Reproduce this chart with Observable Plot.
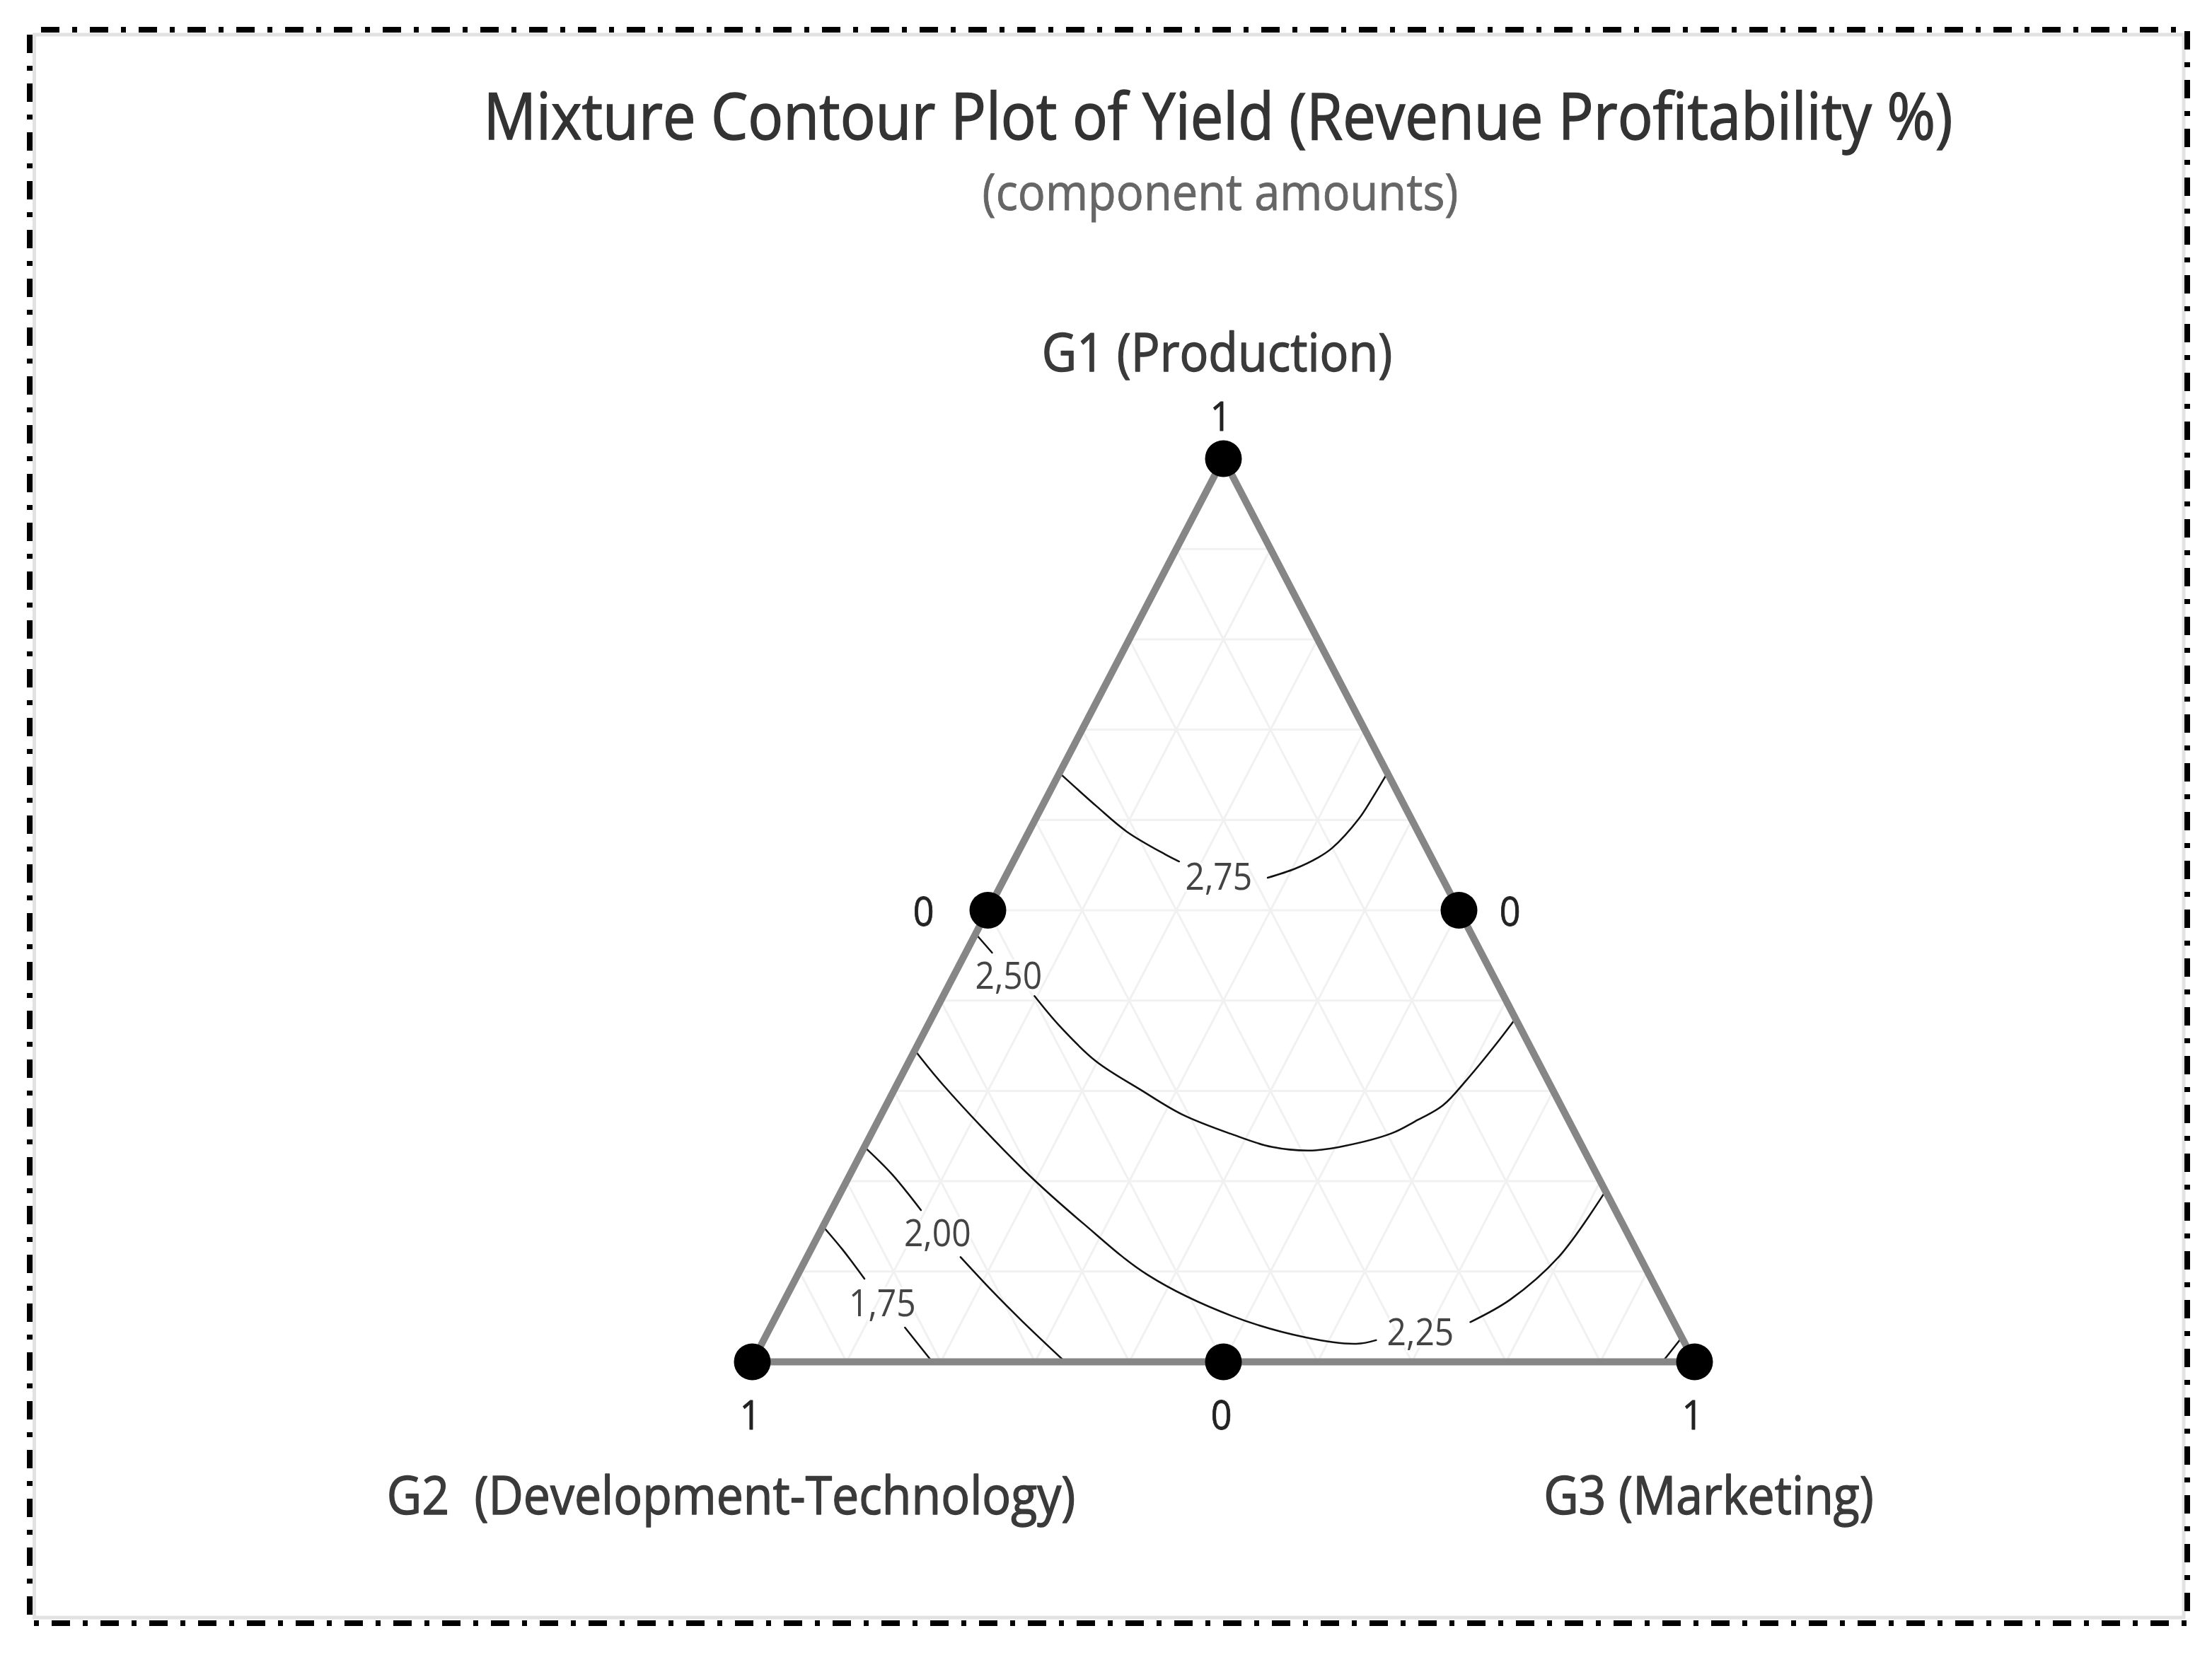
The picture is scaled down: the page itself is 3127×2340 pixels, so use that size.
<!DOCTYPE html>
<html>
<head>
<meta charset="utf-8">
<script src="https://cdn.jsdelivr.net/npm/d3@7"></script>
<script src="https://cdn.jsdelivr.net/npm/@observablehq/plot@0.6"></script>
<style>
  html, body { margin: 0; padding: 0; background: #fff; }
  #page { position: relative; width: 3127px; height: 2340px; overflow: hidden; background: #fff; font-family: "Open Sans", sans-serif; }
  #header { display: block; }
  #chart svg { display: block; }
  #border { position: absolute; left: 0; top: 0; pointer-events: none; }
</style>
</head>
<body>
<div id="page">
  <svg id="header" width="3127" height="330" style="font-family:'Open Sans',sans-serif">
    <text id="title" transform="translate(1722,197) scale(1,1.1)" text-anchor="middle" font-size="83" fill="#333" stroke="#333" stroke-width="1.4"></text>
    <text id="subtitle" transform="translate(1725,297) scale(1,1.1)" text-anchor="middle" font-size="65" fill="#666" stroke="#666" stroke-width="0.8"></text>
  </svg>
  <div id="chart"></div>
  <svg id="border" width="3127" height="2340">
    <rect x="48.5" y="49" width="3038.5" height="2238" fill="none" stroke="#e2e2e2" stroke-width="5"/>
    <rect x="42" y="42" width="3050" height="2253" fill="none" stroke="#000" stroke-width="8" stroke-dasharray="26 18 7 18" stroke-dashoffset="-16"/>
  </svg>
</div>
<script>
// ---------- chart values ----------
const titleText = "Mixture Contour Plot of Yield (Revenue Profitability %)";
const subtitleText = "(component amounts)";

// component (vertex) names: G1 top, G2 bottom-left, G3 bottom-right
const componentNames = ["G1 (Production)", "G2\u00a0 (Development-Technology)", "G3 (Marketing)"];

// design points [G1, G2, G3] and their tick labels
const designPoints = [[1, 0, 0], [0.5, 0.5, 0], [0.5, 0, 0.5], [0, 1, 0], [0, 0.5, 0.5], [0, 0, 1]];
const tickLabels   = ["1", "0", "0", "1", "0", "1"];
const tickSides    = ["top", "left", "right", "bottom", "bottom", "bottom"];

// light ternary grid values
const gridTicks = [0.1, 0.2, 0.3, 0.4, 0.5, 0.6, 0.7, 0.8, 0.9];

// contour levels
const levels = [1.75, 2.00, 2.25, 2.50, 2.75];

// traced contour lines, points as [G1, G2, G3]; each line split where its label interrupts it
const contour175 = [
  [[0.150, 0.850, 0.000], [0.124, 0.842, 0.034], [0.092, 0.835, 0.073]],
  [[0.038, 0.819, 0.143], [0.000, 0.809, 0.191]]
];
const contour200 = [
  [[0.238, 0.762, 0.000], [0.208, 0.748, 0.044], [0.168, 0.737, 0.095]],
  [[0.116, 0.721, 0.163], [0.078, 0.706, 0.216], [0.045, 0.691, 0.264], [0.000, 0.668, 0.332]],
  [[0.000, 0.034, 0.966], [0.027, 0.000, 0.973]]
];
const contour225 = [
  [[0.345, 0.655, 0.000], [0.306, 0.644, 0.050], [0.213, 0.606, 0.181], [0.153, 0.572, 0.275], [0.096, 0.532, 0.372],
   [0.051, 0.466, 0.483], [0.027, 0.399, 0.574], [0.020, 0.349, 0.631], [0.024, 0.326, 0.650]],
  [[0.044, 0.216, 0.740], [0.069, 0.161, 0.770], [0.117, 0.085, 0.798], [0.189, 0.000, 0.811]]
];
const contour250 = [
  [[0.474, 0.526, 0.000], [0.453, 0.519, 0.028]],
  [[0.405, 0.498, 0.097], [0.372, 0.488, 0.140], [0.333, 0.469, 0.198], [0.301, 0.437, 0.262], [0.274, 0.407, 0.319],
   [0.252, 0.365, 0.383], [0.238, 0.330, 0.432], [0.234, 0.289, 0.477], [0.239, 0.252, 0.509], [0.253, 0.195, 0.552],
   [0.266, 0.164, 0.570], [0.284, 0.125, 0.591], [0.312, 0.086, 0.602], [0.350, 0.037, 0.613], [0.380, 0.000, 0.620]]
];
const contour275 = [
  [[0.652, 0.348, 0.000], [0.615, 0.327, 0.058], [0.587, 0.309, 0.104], [0.562, 0.281, 0.157], [0.554, 0.270, 0.176]],
  [[0.536, 0.185, 0.279], [0.546, 0.151, 0.303], [0.558, 0.121, 0.321], [0.569, 0.100, 0.331], [0.601, 0.056, 0.343],
   [0.625, 0.029, 0.346], [0.652, 0.000, 0.348]]
];
const contours = [contour175, contour200, contour225, contour250, contour275];

// contour label positions [G1, G2, G3]
const labelPoints = [[0.064, 0.830, 0.106], [0.141, 0.733, 0.126], [0.032, 0.275, 0.693], [0.426, 0.515, 0.059], [0.536, 0.237, 0.227]];

// ---------- build ----------
document.getElementById("title").textContent = titleText;
document.getElementById("subtitle").textContent = subtitleText;

// ternary -> cartesian (0..1)
const X = p => p[2] + p[0] / 2;
const Y = p => p[0];

const fmt = v => d3.format(".2f")(v).replace(".", ",");

const gridLines = gridTicks.flatMap(t => [
  [[t, 1 - t, 0], [t, 0, 1 - t]],
  [[1 - t, t, 0], [0, t, 1 - t]],
  [[1 - t, 0, t], [0, 1 - t, t]]
]);

const contourRows = [];
contours.forEach((segs, li) => segs.forEach((seg, si) => seg.forEach(p =>
  contourRows.push({level: levels[li], seg: `${li}-${si}`, p})
)));

const labelRows = levels.map((lv, i) => ({text: fmt(lv), p: labelPoints[i]}));
const tickRows = designPoints.map((p, i) => ({p, text: tickLabels[i], side: tickSides[i]}));
const vertexRows = [[1, 0, 0], [0, 1, 0], [0, 0, 1]].map((p, i) => ({p, text: componentNames[i]}));
const edgePath = [[0, 1, 0], [0, 0, 1], [1, 0, 0], [0, 1, 0]];

const tickStyle = {x: d => X(d.p), y: d => Y(d.p), text: "text", fontSize: 52, fill: "#222", stroke: "#222", strokeWidth: 0.8, lineAnchor: "bottom"};
const nameStyle = {x: d => X(d.p), y: d => Y(d.p), text: "text", fontSize: 68, fill: "#3a3a3a", stroke: "#3a3a3a", strokeWidth: 1.3, lineAnchor: "bottom"};

const chart = Plot.plot({
  width: 3127,
  height: 2010,
  x: {domain: [0, 1], range: [1063, 2395], axis: null},
  y: {domain: [0, 1], range: [1595, 318], axis: null},
  style: {fontFamily: "'Open Sans', sans-serif", background: "white"},
  marks: [
    Plot.link(gridLines, {
      x1: l => X(l[0]), y1: l => Y(l[0]), x2: l => X(l[1]), y2: l => Y(l[1]),
      stroke: "#f1f1f1", strokeWidth: 3
    }),
    Plot.line(contourRows, {
      x: d => X(d.p), y: d => Y(d.p), z: "seg", curve: "catmull-rom",
      stroke: "#111", strokeWidth: 2.5
    }),
    Plot.line(edgePath, {x: X, y: Y, stroke: "#868686", strokeWidth: 10}),
    Plot.dot(designPoints, {x: X, y: Y, r: 26, fill: "#000", stroke: null}),
    Plot.text(labelRows, {
      x: d => X(d.p), y: d => Y(d.p), text: "text", fontSize: 48, fill: "#444",
      lineAnchor: "middle", stroke: "white", strokeWidth: 6, paintOrder: "stroke"
    }),
    Plot.text(tickRows.filter(d => d.side === "top"), {...tickStyle, dx: -4, dy: -40}),
    Plot.text(tickRows.filter(d => d.side === "left"), {...tickStyle, dx: -91, dy: 22}),
    Plot.text(tickRows.filter(d => d.side === "right"), {...tickStyle, dx: 72, dy: 22}),
    Plot.text(tickRows.filter(d => d.side === "bottom"), {...tickStyle, dx: -3, dy: 95}),
    Plot.text(vertexRows.slice(0, 1), {...nameStyle, dx: -9, dy: -124}),
    Plot.text(vertexRows.slice(1, 2), {...nameStyle, dx: -30, dy: 215}),
    Plot.text(vertexRows.slice(2, 3), {...nameStyle, dx: 20, dy: 215})
  ]
});

// slightly taller glyphs, as in the reference rendering
chart.querySelectorAll("text").forEach(t => {
  const tr = t.getAttribute("transform");
  if (tr && tr.includes("translate")) t.setAttribute("transform", tr + " scale(1,1.1)");
});

document.getElementById("chart").appendChild(chart);
</script>
</body>
</html>
